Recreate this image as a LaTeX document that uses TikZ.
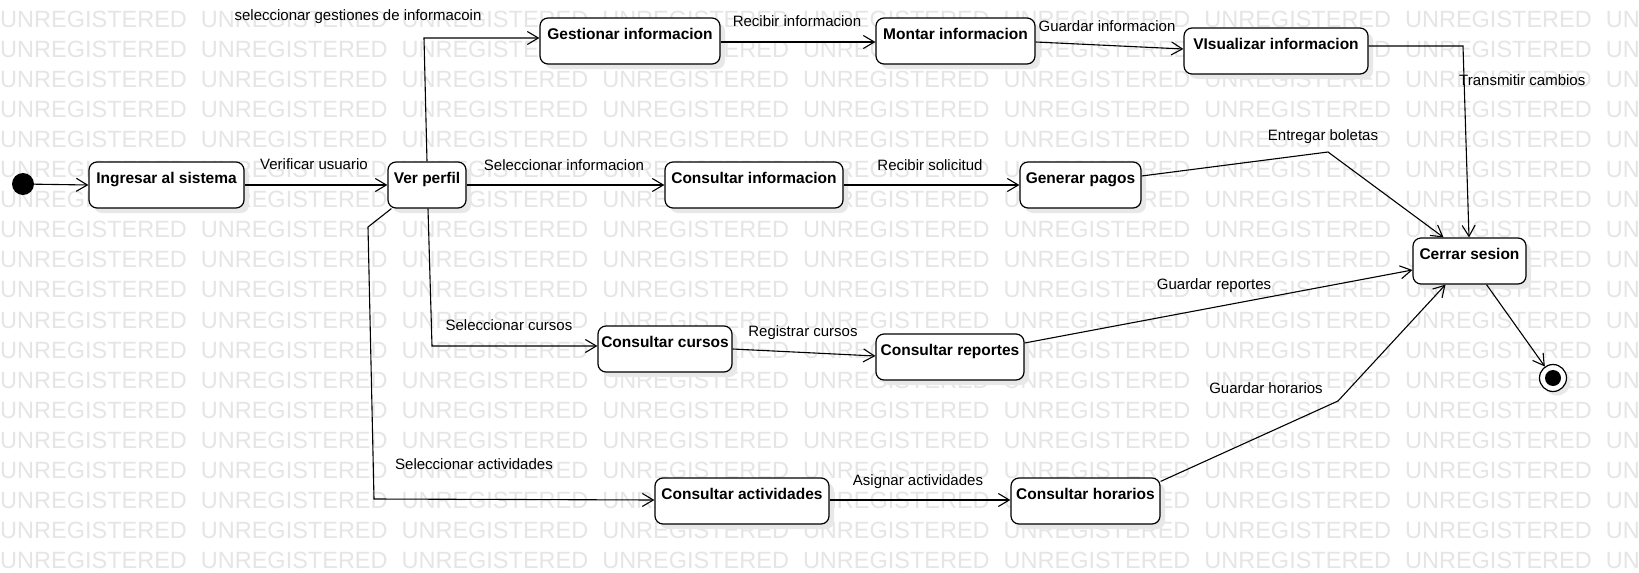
\documentclass[tikz,border=0pt]{standalone}
\usepackage{fontspec}
\setmainfont{Liberation Sans}
\usetikzlibrary{arrows.meta,calc,shadows}
\begin{document}
\begin{tikzpicture}[x=1pt,y=-1pt,
  st/.style={draw, line width=1.2pt, rounded corners=8pt, fill=white, minimum height=46pt,
    inner xsep=3pt, inner ysep=5pt, text height=16pt, text depth=20pt,
    font=\fontsize{15.5}{18}\selectfont\bfseries,
    drop shadow={shadow xshift=5pt, shadow yshift=-5pt, fill=black!9, opacity=1}},
  lbl/.style={font=\fontsize{15}{17}\selectfont, inner sep=0pt},
  tr/.style={line width=1.1pt, -{Straight Barb[length=11pt,width=13pt,line width=1.1pt]}},
  wm/.style={font=\fontsize{23.5}{28}\selectfont, text=black!10, inner sep=0pt, anchor=west}]
\useasboundingbox (0,0) rectangle (1639,573);
\fill[white] (0,0) rectangle (1639,573);
% watermark
\foreach \r in {0,...,18} {
  \foreach \c in {0,...,8} {
    \node[wm] (wm-\r-\c) at (\c*200.7, 19+\r*30.1) {UNREGISTERED};
  }
}
% states
\node[circle, fill=black, minimum size=22pt, inner sep=0pt] (start) at (23,184) {};
\node[st, minimum width=155pt] (ing) at (166.5,185) {Ingresar al sistema};
\node[st, minimum width=78pt] (vp) at (427,185) {Ver perfil};
\node[st, minimum width=180pt] (gest) at (630,41) {Gestionar informacion};
\node[st, minimum width=159pt] (mont) at (955.5,41) {Montar informacion};
\node[st, minimum width=184pt] (vis) at (1276,51) {VIsualizar informacion};
\node[st, minimum width=178pt] (cinf) at (754,185) {Consultar informacion};
\node[st, minimum width=121pt] (gen) at (1080.5,185) {Generar pagos};
\node[st, minimum width=113pt] (cer) at (1469.5,261) {Cerrar sesion};
\node[st, minimum width=134pt] (ccur) at (665,349) {Consultar cursos};
\node[st, minimum width=148pt] (crep) at (950,357) {Consultar reportes};
\node[st, minimum width=174pt] (cact) at (742,501) {Consultar actividades};
\node[st, minimum width=149pt] (chor) at (1085.5,501) {Consultar horarios};
\node[circle, draw, line width=1.2pt, fill=white, minimum size=27pt, inner sep=0pt,
  drop shadow={shadow xshift=4pt, shadow yshift=-4pt, fill=black!9, opacity=1}] (fin) at (1553,378) {};
\node[circle, fill=black, minimum size=16pt, inner sep=0pt] (fini) at (fin.center) {};
% transitions
\draw[tr] (start) -- (ing.west);
\draw[tr] (ing.east) -- (vp.west);
\draw[tr] (vp.north) -- (424,38) -- ($(gest.west)+(0,-3)$);
\draw[tr] ($(gest.east)+(0,1)$) -- ($(mont.west)+(0,1)$);
\draw[tr] ($(mont.east)+(0,1)$) -- ($(vis.west)+(0,-2)$);
\draw[tr] ($(vis.east)+(0,-5)$) -- (1463,46) -- ($(cer.north)+(-0.5,0)$);
\draw[tr] (vp.east) -- (cinf.west);
\draw[tr] (cinf.east) -- (gen.west);
\draw[tr] ($(gen.east)+(0,-9)$) -- (1328,152) -- ($(cer.north)+(-26,0)$);
\draw[tr] ($(vp.south)+(1,0)$) -- (432,346) -- ($(ccur.west)+(0,-3)$);
\draw[tr] (ccur.east) -- ($(crep.west)+(0,-1)$);
\draw[tr] ($(crep.east)+(0,-14)$) -- ($(cer.west)+(0,9)$);
\draw[tr] ($(vp.south west)+(4,0)$) -- (368,227) -- (374,499) -- ($(cact.west)+(0,-1)$);
\draw[tr] ($(cact.east)+(0,-1)$) -- ($(chor.west)+(0,-1)$);
\draw[tr] ($(chor.north east)+(0,4)$) -- (1338,401) -- ($(cer.south)+(-24,0)$);
\draw[tr] ($(cer.south)+(17,0)$) -- (fin);
% labels
\node[lbl] (l1) at (314,164) {Verificar usuario};
\node[lbl] (l2) at (358,17) {seleccionar gestiones de informacoin};
\node[lbl] (l3) at (797,21) {Recibir informacion};
\node[lbl] (l4) at (1107,26) {Guardar informacion};
\node[lbl, anchor=west] (l5) at (1459,80) {Transmitir cambios};
\node[lbl] (l6) at (564,165) {Seleccionar informacion};
\node[lbl] (l7) at (930,165) {Recibir solicitud};
\node[lbl] (l8) at (1323,137) {Entregar boletas};
\node[lbl] (l9) at (509,325) {Seleccionar cursos};
\node[lbl] (l10) at (803,333) {Registrar cursos};
\node[lbl] (l11) at (1214,286) {Guardar reportes};
\node[lbl] (l12) at (474,464) {Seleccionar actividades};
\node[lbl] (l13) at (918,482) {Asignar actividades};
\node[lbl] (l14) at (1266,388) {Guardar horarios};
\end{tikzpicture}
\end{document}
